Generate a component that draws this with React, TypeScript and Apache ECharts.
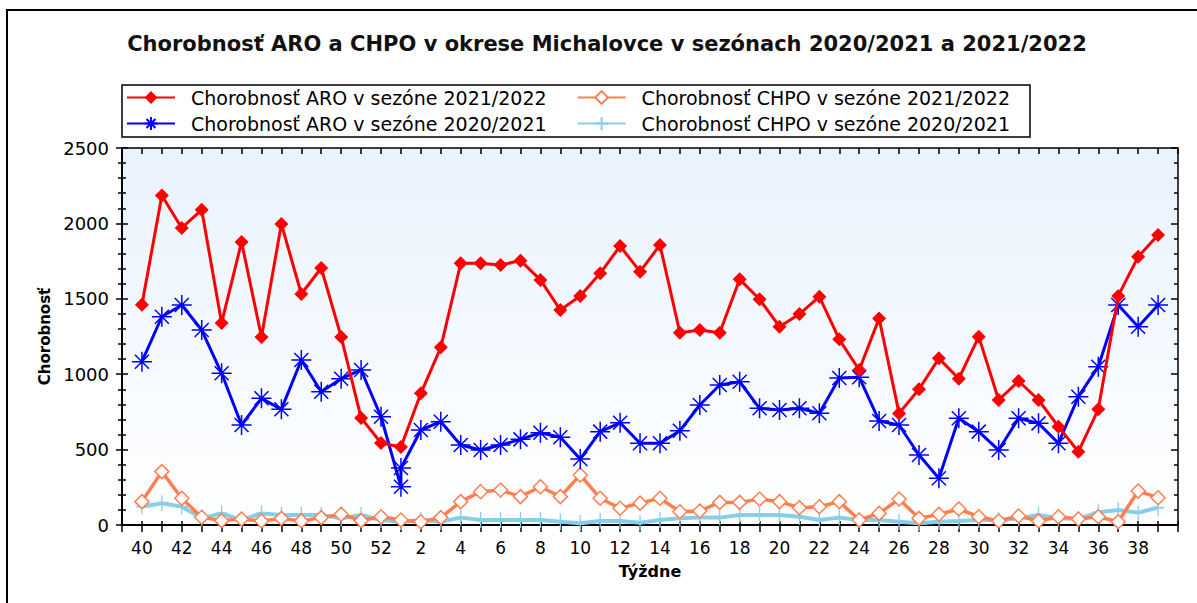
import React, { useEffect, useRef } from "react";
import * as echarts from "echarts";

const FONT = '"DejaVu Sans", "Liberation Sans", Arial, sans-serif';

const TITLE = "Chorobnosť ARO a CHPO v okrese Michalovce v sezónach 2020/2021 a 2021/2022";
const NAME_ARO_2122 = "Chorobnosť ARO v sezóne 2021/2022";
const NAME_CHPO_2122 = "Chorobnosť CHPO v sezóne 2021/2022";
const NAME_ARO_2021 = "Chorobnosť ARO v sezóne 2020/2021";
const NAME_CHPO_2021 = "Chorobnosť CHPO v sezóne 2020/2021";

// Weeks of the season 2021/2022 (axis categories)
const weeks2122 = [
  40, 41, 42, 43, 44, 45, 46, 47, 48, 49, 50, 51, 52,
  1, 2, 3, 4, 5, 6, 7, 8, 9, 10, 11, 12, 13, 14, 15, 16, 17, 18, 19, 20,
  21, 22, 23, 24, 25, 26, 27, 28, 29, 30, 31, 32, 33, 34, 35, 36, 37, 38, 39,
];
// Weeks of the season 2020/2021 (had week 53)
const weeks2021 = [
  40, 41, 42, 43, 44, 45, 46, 47, 48, 49, 50, 51, 52, 53,
  1, 2, 3, 4, 5, 6, 7, 8, 9, 10, 11, 12, 13, 14, 15, 16, 17, 18, 19, 20,
  21, 22, 23, 24, 25, 26, 27, 28, 29, 30, 31, 32, 33, 34, 35, 36, 37, 38, 39,
];

const aro2122 = [
  1460, 2185, 1970, 2090, 1340, 1877, 1247, 1996, 1532, 1704, 1247, 710, 544,
  517, 873, 1178, 1735, 1735, 1724, 1753, 1625, 1426, 1519, 1669, 1850, 1680, 1857,
  1275, 1293, 1275, 1629, 1497, 1315, 1399, 1514, 1231, 1028, 1370, 740, 900,
  1105, 970, 1249, 829, 955, 829, 652, 486, 767, 1519, 1779, 1923,
];
const chpo2122 = [
  155, 354, 177, 51, 29, 40, 27, 44, 27, 49, 71, 29, 55,
  33, 22, 49, 155, 221, 232, 188, 254, 188, 332, 177, 111, 145, 177,
  88, 93, 150, 150, 172, 155, 115, 121, 155, 33, 77, 172, 44,
  71, 106, 55, 27, 60, 27, 55, 40, 55, 22, 225, 181,
];
const aro2021 = [
  1083, 1381, 1459, 1293, 1006, 663, 840, 767, 1094, 884, 970, 1028, 718, 254,
  378, 630, 685, 530, 497, 530, 568, 612, 582, 438, 619, 678, 542, 542,
  625, 796, 928, 950, 774, 763, 774, 741, 975, 980, 690, 663, 464,
  310, 708, 619, 497, 708, 674, 542, 851, 1050, 1459, 1315, 1459,
];
const chpo2021 = [
  122, 144, 122, 44, 77, 33, 77, 66, 66, 66, 44, 66, 33, 22,
  22, 33, 22, 49, 33, 33, 33, 33, 22, 11, 27, 27, 15, 33,
  44, 49, 49, 66, 66, 66, 55, 33, 49, 33, 33, 22, 11,
  22, 27, 33, 33, 44, 66, 44, 40, 84, 99, 82, 115,
];

const yTicks = [0, 500, 1000, 1500, 2000, 2500];

// position of a week on the axis (week 53 shares the slot of week 1)
function weekPos(w: number): number {
  if (w === 53) return weeks2122.indexOf(1);
  return weeks2122.indexOf(w);
}
function pairs(weeks: number[], vals: number[]) {
  return weeks.map((w, i) => [weekPos(w), vals[i]]);
}

const STAR = "path://M10,0L10,20M0,10L20,10M3,3L17,17M3,17L17,3";
const PLUS = "path://M6,0L6,16M0,8L12,8";

export default function App() {
  const ref = useRef<HTMLDivElement>(null);
  useEffect(() => {
    if (!ref.current) return;
    const chart = echarts.init(ref.current, null, { renderer: "svg" });
    const xCommon = {
      type: "value" as const,
      min: -1,
      max: weeks2122.length,
      interval: 1,
      splitLine: { show: false },
    };
    const yCommon = {
      type: "value" as const,
      min: yTicks[0],
      max: yTicks[yTicks.length - 1],
      interval: yTicks[1] - yTicks[0],
      splitLine: { show: false },
    };
    const tickLine = { color: "#000", width: 1.5 };
    chart.setOption({
      animation: false,
      backgroundColor: "#ffffff",
      textStyle: { fontFamily: FONT },
      graphic: [
        {
          type: "rect",
          shape: { x: 7, y: 10, width: 1300, height: 700 },
          style: { fill: "none", stroke: "#000", lineWidth: 2 },
          silent: true,
          z: -10,
        },
        {
          type: "text",
          x: 607,
          y: 44,
          style: {
            text: TITLE,
            font: `bold 21px ${FONT}`,
            fill: "#111",
            textAlign: "center",
            textVerticalAlign: "middle",
          },
        },
        {
          type: "rect",
          shape: { x: 122, y: 85, width: 908, height: 52 },
          style: { fill: "#fff", stroke: "#000", lineWidth: 1.5 },
          z: -1,
        },
      ],
      legend: [
        {
          data: [NAME_ARO_2122, NAME_CHPO_2122],
          left: 126,
          top: 88,
          padding: 0,
          itemWidth: 48,
          itemHeight: 16,
          itemGap: 30,
          selectedMode: false,
          textStyle: { fontFamily: FONT, fontSize: 19, color: "#000", padding: [0, 0, 0, 11] },
        },
        {
          data: [NAME_ARO_2021, NAME_CHPO_2021],
          left: 126,
          top: 114,
          padding: 0,
          itemWidth: 48,
          itemHeight: 16,
          itemGap: 30,
          selectedMode: false,
          textStyle: { fontFamily: FONT, fontSize: 19, color: "#000", padding: [0, 0, 0, 11] },
        },
      ],
      grid: {
        left: 122,
        right: 19,
        top: 148,
        bottom: 78,
        show: true,
        borderWidth: 0,
        backgroundColor: new echarts.graphic.LinearGradient(0, 0, 0, 1, [
          { offset: 0, color: "#e8f2fd" },
          { offset: 1, color: "#ffffff" },
        ]),
      },
      xAxis: [
        {
          ...xCommon,
          position: "bottom",
          name: "Týždne",
          nameLocation: "middle",
          nameGap: 38,
          nameTextStyle: { fontFamily: FONT, fontSize: 16, fontWeight: "bold", color: "#000" },
          axisLine: { show: true, onZero: false, lineStyle: { color: "#000", width: 2 } },
          axisTick: { show: true, inside: false, length: 7, lineStyle: tickLine },
          axisLabel: {
            show: true,
            margin: 14,
            fontFamily: FONT,
            fontSize: 17,
            color: "#000",
            formatter: (v: number) => {
              const w = weeks2122[Math.round(v)];
              return w !== undefined && w % 2 === 0 ? String(w) : "";
            },
          },
        },
        {
          ...xCommon,
          position: "bottom",
          axisLine: { show: false, onZero: false },
          axisTick: { show: true, inside: true, length: 4, lineStyle: tickLine },
          axisLabel: { show: false },
        },
        {
          ...xCommon,
          position: "top",
          axisLine: { show: true, onZero: false, lineStyle: { color: "#000", width: 1.5 } },
          axisTick: { show: true, inside: true, length: 6, lineStyle: tickLine },
          axisLabel: { show: false },
        },
      ],
      yAxis: [
        {
          ...yCommon,
          position: "left",
          name: "Chorobnosť",
          nameLocation: "middle",
          nameGap: 66,
          nameTextStyle: { fontFamily: FONT, fontSize: 15, fontWeight: "bold", color: "#000" },
          axisLine: { show: true, onZero: false, lineStyle: { color: "#000", width: 2 } },
          axisTick: { show: true, inside: false, length: 6, lineStyle: tickLine },
          minorTick: { show: true, splitNumber: 5, length: 4, lineStyle: tickLine },
          axisLabel: {
            show: true,
            margin: 13,
            fontFamily: FONT,
            fontSize: 18,
            color: "#000",
            formatter: (v: number) => String(v),
          },
        },
        {
          ...yCommon,
          position: "left",
          axisLine: { show: false, onZero: false },
          axisTick: { show: true, inside: true, length: 6, lineStyle: tickLine },
          minorTick: { show: true, splitNumber: 5, length: 4, lineStyle: tickLine },
          axisLabel: { show: false },
        },
        {
          ...yCommon,
          position: "right",
          axisLine: { show: true, onZero: false, lineStyle: { color: "#000", width: 1.5 } },
          axisTick: { show: true, inside: true, length: 7, lineStyle: tickLine },
          minorTick: { show: true, splitNumber: 5, length: 4, lineStyle: tickLine },
          axisLabel: { show: false },
        },
      ],
      series: [
        {
          name: NAME_CHPO_2021,
          type: "line",
          data: pairs(weeks2021, chpo2021),
          symbol: PLUS,
          symbolSize: [12, 16],
          lineStyle: { color: "#87ceeb", width: 4 },
          itemStyle: { color: "#87ceeb", borderColor: "#87ceeb", borderWidth: 1.5 },
          z: 2,
        },
        {
          name: NAME_CHPO_2122,
          type: "line",
          data: pairs(weeks2122, chpo2122),
          symbol: "diamond",
          symbolSize: 14,
          lineStyle: { color: "#ff7f50", width: 3.5 },
          itemStyle: { color: "#ffffff", borderColor: "#ff7f50", borderWidth: 1.5 },
          z: 3,
        },
        {
          name: NAME_ARO_2021,
          type: "line",
          data: pairs(weeks2021, aro2021),
          symbol: STAR,
          symbolSize: 20,
          lineStyle: { color: "#0000ff", width: 3 },
          itemStyle: { color: "#0000ff", borderColor: "#0000ff", borderWidth: 1.5 },
          z: 4,
        },
        {
          name: NAME_ARO_2122,
          type: "line",
          data: pairs(weeks2122, aro2122),
          symbol: "diamond",
          symbolSize: 14,
          lineStyle: { color: "#ff0000", width: 3 },
          itemStyle: { color: "#ff0000" },
          z: 5,
        },
      ],
    });
    return () => chart.dispose();
  }, []);
  return (
    <div
      ref={ref}
      style={{ position: "absolute", left: 0, top: 0, width: 1197, height: 603 }}
    />
  );
}
